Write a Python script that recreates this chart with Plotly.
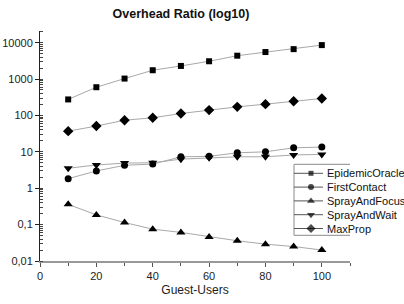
import plotly.graph_objects as go

# ---- data ----
guest_users = [10, 20, 30, 40, 50, 60, 70, 80, 90, 100]
series_names = ["EpidemicOracle", "FirstContact", "SprayAndFocus", "SprayAndWait", "MaxProp"]
epidemic_oracle = [275, 596, 1030, 1745, 2290, 3080, 4380, 5520, 6630, 8560]
first_contact = [1.83, 2.98, 4.27, 4.6, 7.3, 7.5, 9.4, 10.0, 12.9, 13.5]
spray_and_focus = [0.36, 0.185, 0.114, 0.075, 0.061, 0.046, 0.036, 0.029, 0.025, 0.020]
spray_and_wait = [3.53, 4.35, 4.9, 5.0, 6.3, 6.9, 7.3, 7.3, 8.2, 8.5]
max_prop = [37, 51, 74, 86, 113, 140, 172, 204, 246, 292]
y_tick_vals = [0.01, 0.1, 1, 10, 100, 1000, 10000]
y_tick_text = ["0,01", "0,1", "1", "10", "100", "1000", "10000"]
x_tick_vals = [0, 20, 40, 60, 80, 100]

series_values = [epidemic_oracle, first_contact, spray_and_focus, spray_and_wait, max_prop]
symbols = ["square", "circle", "triangle-up", "triangle-down", "diamond"]
sizes = [6, 7, 8, 8, 8]

FONT = "Liberation Sans, Arial, sans-serif"

fig = go.Figure()
for name, vals, sym, sz in zip(series_names, series_values, symbols, sizes):
    fig.add_trace(go.Scatter(
        x=guest_users, y=vals, name=name, mode="lines+markers",
        line=dict(color="#a8a8a8", width=1),
        marker=dict(symbol=sym, size=sz, color="black", line=dict(width=0)),
        showlegend=False, cliponaxis=False,
    ))

# ---- custom legend drawn on an overlay axis in pixel-like units ----
leg_rows = [173, 186.8, 200.6, 214.4, 228.2]
for name, sym, sz, ry in zip(series_names, symbols, sizes, leg_rows):
    fig.add_trace(go.Scatter(
        x=[294, 311, 323], y=[ry, ry, ry], mode="lines+markers",
        line=dict(color="#555555", width=1),
        marker=dict(symbol=sym, size=[0, sz - 1, 0], color="black", line=dict(width=0)),
        xaxis="x2", yaxis="y2", showlegend=False, hoverinfo="skip", cliponaxis=False,
    ))
    fig.add_annotation(x=325, y=ry, xref="x2", yref="y2", text=name, showarrow=False,
                       xanchor="left", yanchor="middle",
                       font=dict(family=FONT, size=11, color="#111111"))

fig.add_shape(type="rect", xref="x2", yref="y2", x0=294, x1=420, y0=164, y1=235,
              line=dict(color="#8a8a8a", width=1), fillcolor="white", layer="below")

fig.update_layout(
    width=404, height=304,
    margin=dict(l=40, r=54, t=31, b=43, autoexpand=False),
    paper_bgcolor="white", plot_bgcolor="white",
    showlegend=False,
    font=dict(family=FONT, size=11, color="#222222"),
    title=dict(text="<b>Overhead Ratio (log10)</b>", x=0.448, xanchor="center",
               y=1 - 14 / 304, yanchor="middle", yref="container",
               font=dict(family=FONT, size=12.5, color="#111111")),
    xaxis=dict(
        range=[0, 110], tickmode="array", tickvals=x_tick_vals,
        showgrid=False, zeroline=False,
        showline=True, linecolor="#999999", linewidth=2,
        ticks="outside", ticklen=4, tickcolor="#555555", tickwidth=1,
        minor=dict(dtick=10, tick0=0, ticks="outside", ticklen=3, tickcolor="#555555"),
        tickfont=dict(family=FONT, size=11, color="#222222"),
        title=dict(text="Guest-Users", standoff=4,
                   font=dict(family=FONT, size=12, color="#222222")),
    ),
    yaxis=dict(
        type="log", range=[-2, 4.32], tickmode="array",
        tickvals=y_tick_vals, ticktext=y_tick_text,
        showgrid=False, zeroline=False,
        showline=True, linecolor="#222222", linewidth=1,
        ticks="outside", ticklen=4, tickcolor="#222222",
        minor=dict(dtick="D1", ticks="inside", ticklen=3, tickcolor="#444444"),
        tickfont=dict(family=FONT, size=11, color="#222222"),
    ),
    xaxis2=dict(overlaying="x", anchor="y2", range=[40, 350], visible=False, fixedrange=True),
    yaxis2=dict(overlaying="y", anchor="x2", range=[260.7, 30.7], visible=False, fixedrange=True),
)

fig.write_html("out.html", config={"displayModeBar": False, "staticPlot": True},
               post_script="document.body.style.margin='0';document.body.style.overflow='hidden';")
